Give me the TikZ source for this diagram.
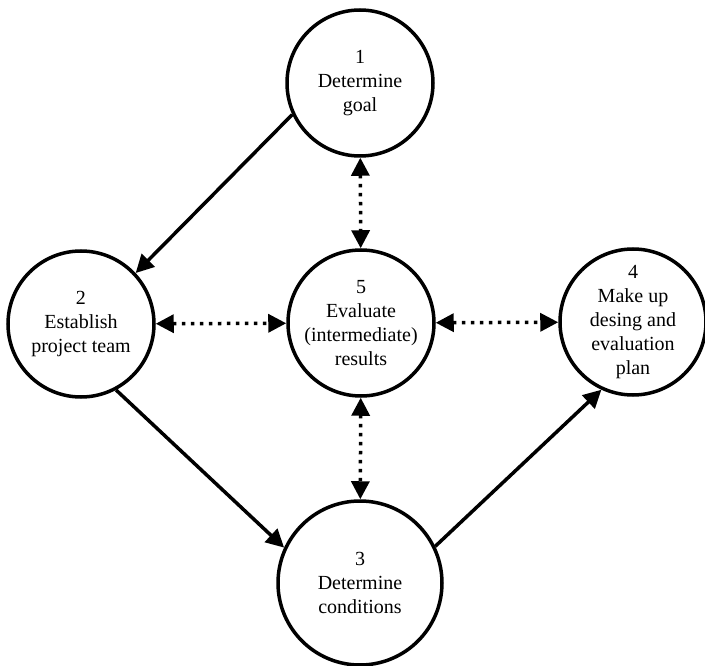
\documentclass[tikz,border=0pt]{standalone}
\usepackage{fontspec}
\setmainfont{Liberation Serif}
\usetikzlibrary{arrows.meta}

\begin{document}
\begin{tikzpicture}[x=1pt,y=-1pt,
    stage/.style={circle,draw,line width=3.5pt,minimum size=146pt,inner sep=0pt,
        align=center,font=\fontsize{20}{24}\selectfont},
    flow/.style={-{Triangle[length=18pt,width=18pt]},line width=3.5pt},
    check/.style={{Triangle[length=18pt,width=18pt]}-{Triangle[length=18pt,width=18pt]},
        line width=3.5pt,dash pattern=on 3.5pt off 5.5pt}]
    \useasboundingbox (0,0) rectangle (705,666);
    \node[stage] (goal) at (360,83) {1\\Determine\\goal};
    \node[stage] (team) at (81,324) {2\\Establish\\project team};
    \node[stage] (eval) at (361,323) {5\\Evaluate\\(intermediate)\\results};
    \node[stage] (plan) at (633,322) {4\\Make up\\desing and\\evaluation\\plan};
    \node[stage,minimum size=164pt] (cond) at (360,583) {3\\Determine\\conditions};
    \draw[flow] (goal.205) -- (team.43);
    \draw[flow] (team.298) -- (cond.155);
    \draw[flow] (cond.26) -- (plan.245);
    \draw[check] (goal) -- (eval);
    \draw[check] (team) -- (eval);
    \draw[check] (eval) -- (plan);
    \draw[check] (eval) -- (cond);
\end{tikzpicture}
\end{document}
